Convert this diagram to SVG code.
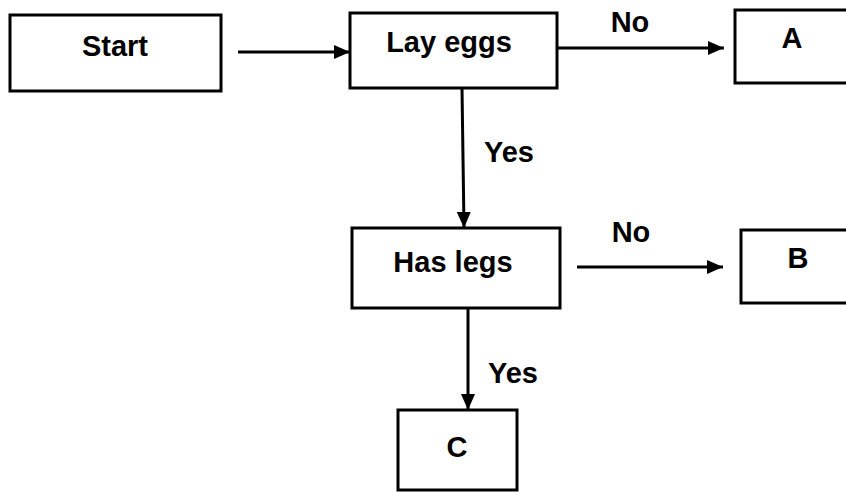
<svg xmlns="http://www.w3.org/2000/svg" width="846" height="493" viewBox="0 0 846 493">
<style>
.box{fill:#fff;stroke:#000;stroke-width:3}
.t{font-family:"Liberation Sans",Arial,sans-serif;font-size:29px;font-weight:bold;fill:#000;text-anchor:middle}
.c{stroke:#000;stroke-width:3;fill:none}
</style>
<defs>
<marker id="ah" markerUnits="userSpaceOnUse" markerWidth="18" markerHeight="14" refX="16" refY="7" orient="auto">
<path d="M0,0 L16,7 L0,14 Z" fill="#000"/>
</marker>
</defs>
<rect width="846" height="493" fill="#fff"/>
<g id="connectors">
<line class="c" x1="238" y1="52" x2="350" y2="52" marker-end="url(#ah)"/>
<line class="c" x1="558" y1="48" x2="724" y2="48" marker-end="url(#ah)"/>
<line class="c" x1="462" y1="88" x2="464" y2="228" marker-end="url(#ah)"/>
<line class="c" x1="577" y1="267" x2="723" y2="267" marker-end="url(#ah)"/>
<line class="c" x1="468" y1="308" x2="468" y2="410" marker-end="url(#ah)"/>
<text class="t" x="630" y="32">No</text>
<text class="t" x="509" y="162">Yes</text>
<text class="t" x="631" y="242">No</text>
<text class="t" x="513" y="383">Yes</text>
</g>
<g id="start">
<rect class="box" x="10" y="15" width="211" height="76"/>
<text class="t" x="115" y="56">Start</text>
</g>
<g id="layeggs">
<rect class="box" x="350" y="13" width="207" height="75"/>
<text class="t" x="449" y="52">Lay eggs</text>
</g>
<g id="A">
<rect class="box" x="735" y="10" width="120" height="73"/>
<text class="t" x="792" y="48">A</text>
</g>
<g id="haslegs">
<rect class="box" x="352" y="228" width="208" height="80"/>
<text class="t" x="453" y="272">Has legs</text>
</g>
<g id="B">
<rect class="box" x="741" y="230" width="120" height="73"/>
<text class="t" x="798" y="268">B</text>
</g>
<g id="C">
<rect class="box" x="398" y="410" width="119" height="80"/>
<text class="t" x="457" y="457">C</text>
</g>
</svg>
